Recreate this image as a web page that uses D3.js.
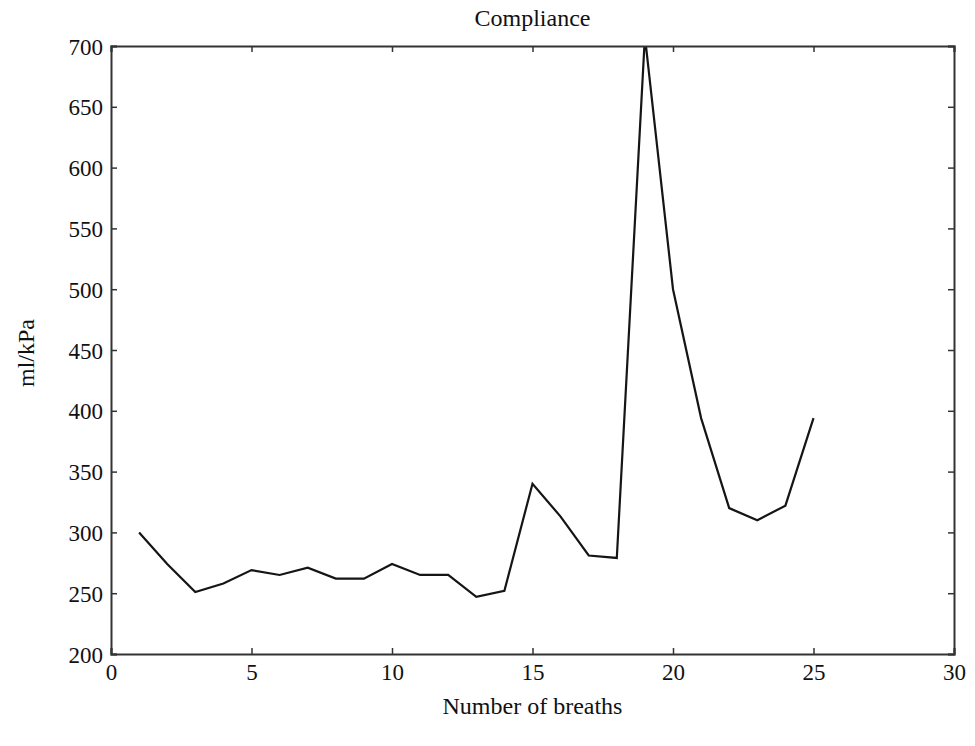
<!DOCTYPE html>
<html>
<head>
<meta charset="utf-8">
<script src="https://cdn.jsdelivr.net/npm/d3@7"></script>
<style>
  body { margin: 0; background: #fff; }
  text { font-family: "Liberation Serif", "DejaVu Serif", serif; fill: #111; }
</style>
</head>
<body>
<div id="chart"></div>
<script>
// breath number and compliance (ml/kPa)
const breaths = [1, 2, 3, 4, 5, 6, 7, 8, 9, 10, 11, 12, 13, 14, 15, 16, 17, 18, 19, 20, 21, 22, 23, 24, 25];
const compliance = [300, 274, 251, 258, 269, 265, 271, 262, 262, 274, 265, 265, 247, 252, 340, 313, 281, 279, 708, 500, 394, 320, 310, 322, 394];
const xTicks = [0, 5, 10, 15, 20, 25, 30];
const yTicks = [200, 250, 300, 350, 400, 450, 500, 550, 600, 650, 700];

const W = 975, H = 746;
const margin = { top: 46, right: 21, bottom: 92, left: 111 };
const width = W - margin.left - margin.right;
const height = H - margin.top - margin.bottom;

const svg = d3.select("#chart").append("svg")
    .attr("width", W)
    .attr("height", H);

const g = svg.append("g")
    .attr("transform", `translate(${margin.left},${margin.top})`);

const x = d3.scaleLinear().domain([0, 30]).range([0, width]);
const y = d3.scaleLinear().domain([200, 700]).range([height, 0]);

// clip so the peak is cut at the top of the box
g.append("clipPath").attr("id", "clip")
    .append("rect").attr("width", width).attr("height", height);

const data = breaths.map((b, i) => ({ b, v: compliance[i] }));

g.append("path")
    .datum(data)
    .attr("clip-path", "url(#clip)")
    .attr("fill", "none")
    .attr("stroke", "#151515")
    .attr("stroke-width", 2.2)
    .attr("stroke-linejoin", "miter")
    .attr("d", d3.line().x(d => x(d.b)).y(d => y(d.v)));

// axes, ticks pointing inward on all four sides
const tick = 6;
const fs = "23px";

const axBottom = g.append("g")
    .attr("transform", `translate(0,${height})`)
    .call(d3.axisBottom(x).tickValues(xTicks).tickSize(-tick).tickPadding(10));
const axLeft = g.append("g")
    .call(d3.axisLeft(y).tickValues(yTicks).tickSize(-tick).tickPadding(8));
const axTop = g.append("g")
    .call(d3.axisTop(x).tickValues(xTicks).tickSize(-tick).tickFormat(""));
const axRight = g.append("g")
    .attr("transform", `translate(${width},0)`)
    .call(d3.axisRight(y).tickValues(yTicks).tickSize(-tick).tickFormat(""));

[axBottom, axLeft, axTop, axRight].forEach(a => {
    a.select(".domain").attr("stroke", "#333").attr("stroke-width", 2);
    a.selectAll(".tick line").attr("stroke", "#333").attr("stroke-width", 1.5);
    a.selectAll("text")
        .style("font-size", fs)
        .style("font-family", "'Liberation Serif', serif")
        .attr("fill", "#111");
});
axLeft.selectAll("text").attr("dy", "0.35em");

// title and axis labels
svg.append("text")
    .attr("x", margin.left + width / 2)
    .attr("y", 26)
    .attr("text-anchor", "middle")
    .style("font-size", "24px")
    .text("Compliance");

svg.append("text")
    .attr("x", margin.left + width / 2)
    .attr("y", 714)
    .attr("text-anchor", "middle")
    .style("font-size", "24px")
    .text("Number of breaths");

svg.append("text")
    .attr("transform", `translate(34,${margin.top + height / 2 + 3}) rotate(-90)`)
    .attr("text-anchor", "middle")
    .style("font-size", "24px")
    .text("ml/kPa");
</script>
</body>
</html>
